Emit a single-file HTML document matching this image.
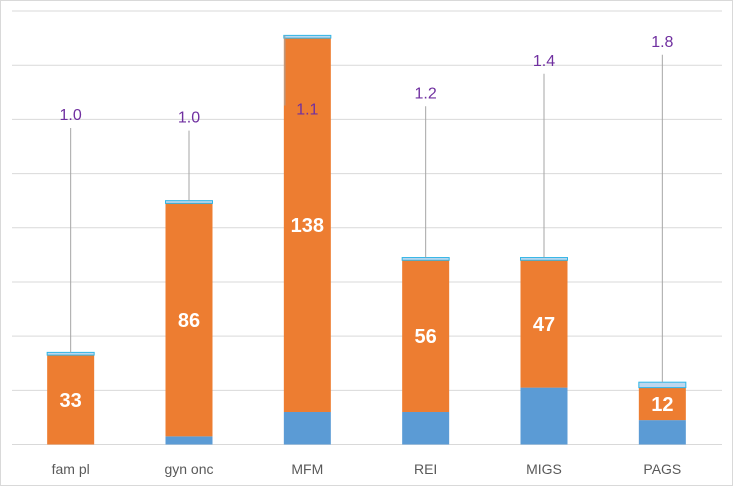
<!DOCTYPE html>
<html><head><meta charset="utf-8"><style>
body{margin:0;background:#fff}
svg{display:block;font-family:"Liberation Sans",Arial,sans-serif}
</style></head><body>
<svg id="chart" width="733" height="486" viewBox="0 0 733 486">
<rect x="0.5" y="0.5" width="732" height="485" fill="#fff" stroke="#d9d9d9"/>
<g id="grid"></g>
<g id="bars"></g>
<g id="labels"></g>
</svg>
<script>
const categories = ["fam pl","gyn onc","MFM","REI","MIGS","PAGS"];
const blueValues = [0,3,12,12,21,9];
const orangeValues = [33,86,138,56,47,12];
const capValues = [1,1,1,1,1,2];
const ratioLabels = ["1.0","1.0","1.1","1.2","1.4","1.8"];
const ratioLabelY = [122,121,124,130,142,149];
const yTicks = [0,20,40,60,80,100,120,140,160];

const NS="http://www.w3.org/2000/svg";
const plotX0=12,plotX1=722,plotBase=444.5,plotTop=11,yMax=160;
const yScale=v=>plotBase-(v/yMax)*(plotBase-plotTop);
const band=(plotX1-plotX0)/categories.length;
const xc=i=>plotX0+band*(i+0.5)-0.5;
const bw=47;
function mk(tag,attrs,parent){const e=document.createElementNS(NS,tag);for(const k in attrs)e.setAttribute(k,attrs[k]);parent.appendChild(e);return e;}
const gridG=document.getElementById('grid'),barsG=document.getElementById('bars'),labelsG=document.getElementById('labels');
yTicks.forEach(t=>{
  const l=mk('line',{x1:plotX0,x2:plotX1,y1:yScale(t),y2:yScale(t),stroke:'#d9d9d9','stroke-width':1},gridG);
  
  
});
categories.forEach((c,i)=>{
  const cx=xc(i),bx=cx-bw/2;
  const b=blueValues[i],o=orangeValues[i],cp=capValues[i];
  const slug=c.replace(/\s+/g,'-').toLowerCase();
  const rb=mk('rect',{x:bx,y:yScale(b),width:bw,height:plotBase-yScale(b),fill:'#5b9bd5'},barsG);
  
  
  const ro=mk('rect',{x:bx,y:yScale(b+o),width:bw,height:yScale(b)-yScale(b+o),fill:'#ed7d31'},barsG);
  
  
  const rc=mk('rect',{x:bx,y:yScale(b+o+cp),width:bw,height:yScale(b+o)-yScale(b+o+cp),fill:'#bdd7ee',stroke:'#2fb5e6','stroke-width':1},barsG);
  
  
  const t=mk('text',{x:cx,y:(yScale(b)+yScale(b+o))/2+7,'text-anchor':'middle','font-size':20,'font-weight':'bold',fill:'#fff'},labelsG);
  t.textContent=o;
  
  
  const ly=yScale(ratioLabelY[i]);
  const capTop=yScale(b+o+cp);
  const below=ly>capTop;
  const lx=below?bx+1:cx;
  const ln=mk('line',{x1:lx,x2:lx,y1:below?capTop:ly+14,y2:below?ly-3:capTop,stroke:'#a6a6a6','stroke-width':1},labelsG);
  
  
  const r=mk('text',{x:cx,y:ly+6,'text-anchor':'middle','font-size':16,fill:'#7030a0'},labelsG);
  r.textContent=ratioLabels[i];
  
  
  const cl=mk('text',{x:cx,y:474,'text-anchor':'middle','font-size':14,fill:'#595959'},labelsG);
  cl.textContent=c;
  
  
});
</script>
</body></html>
